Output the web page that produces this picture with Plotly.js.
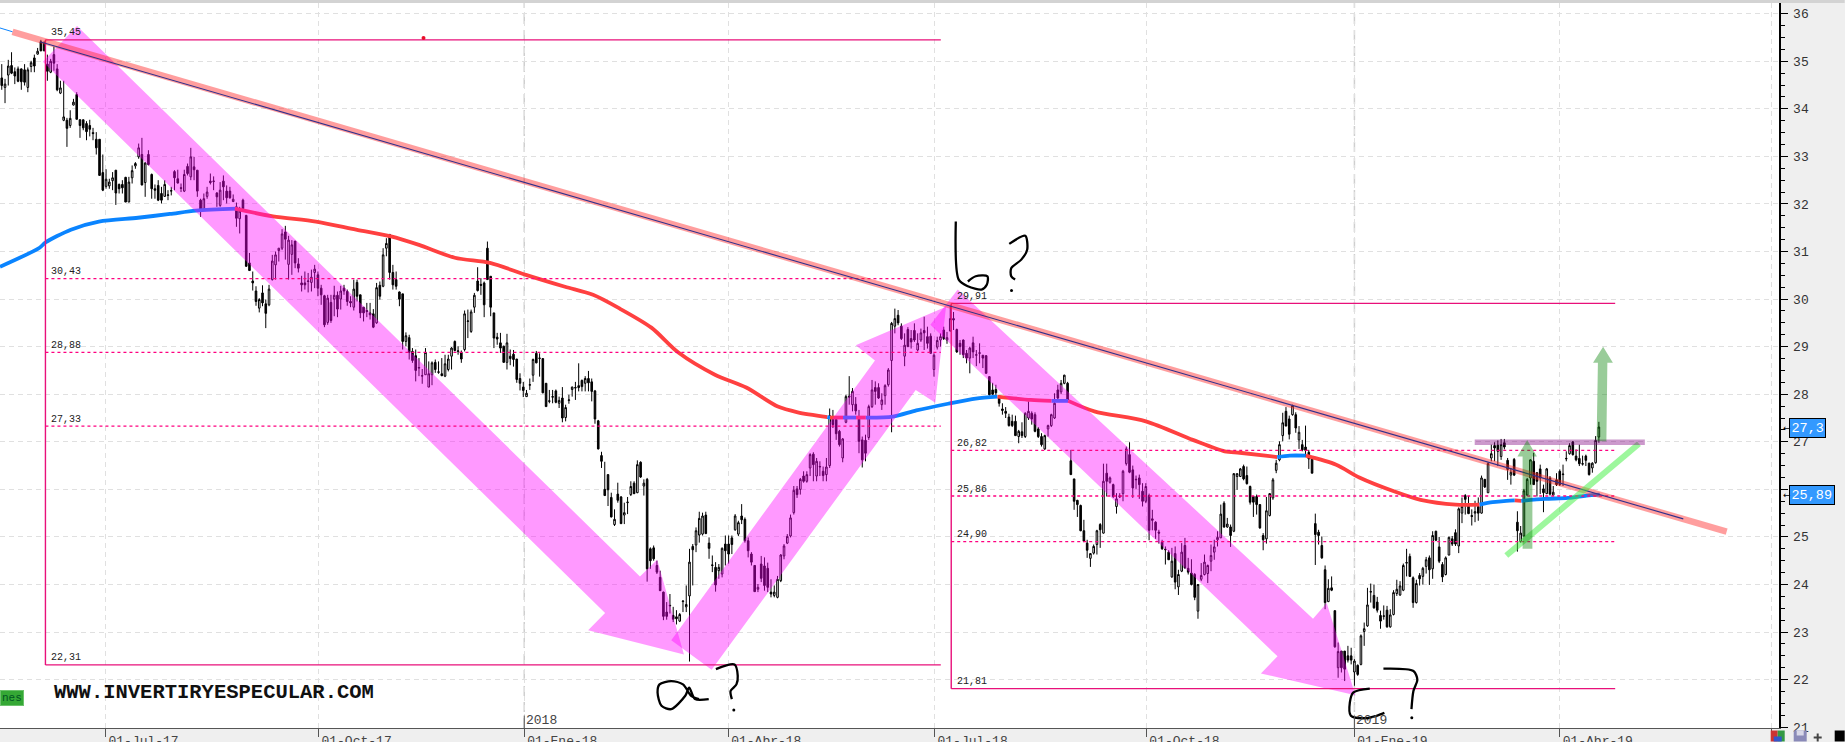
<!DOCTYPE html>
<html>
<head>
<meta charset="utf-8">
<script src="https://cdn.plot.ly/plotly-3.0.1.min.js"></script>
<style>html,body{margin:0;padding:0;background:#efefef;overflow:hidden}#chart{width:1845px;height:742px}</style>
</head>
<body>
<div id="chart"></div>
<script>
const opens = [
34.65,34.45,34.71,34.91,34.78,34.84,34.84,34.82,34.45,34.89,
35.07,35.15,35.41,35.38,34.94,34.77,35.14,34.84,34.33,33.76,
33.76,33.65,34.08,34.30,33.77,33.77,33.69,33.65,33.50,33.36,
33.36,32.66,32.37,32.38,32.49,32.71,32.41,32.41,32.56,32.04,
32.55,32.80,32.99,33.04,32.45,33.04,32.62,32.32,32.39,32.22,
32.16,32.18,32.27,32.68,32.53,32.34,32.27,32.79,32.57,32.78,
32.71,32.08,31.89,32.16,32.48,32.47,32.23,31.97,32.48,32.27,
32.27,32.05,31.94,31.69,32.08,
31.76,30.76,30.38,30.17,29.81,30.13,29.90,29.88,
30.41,30.72,31.02,31.07,31.41,30.73,30.94,31.22,30.74,30.34,
30.34,30.37,30.35,30.56,30.51,30.23,30.07,29.51,29.93,30.00,
30.08,30.00,30.23,30.16,29.95,29.83,30.35,30.09,29.83,29.76,
29.71,29.69,29.50,30.29,30.27,31.07,31.36,30.56,30.41,30.15,
30.11,29.11,29.19,28.90,28.81,28.55,28.38,28.41,28.15,28.41,
28.67,28.46,28.43,28.38,28.52,28.80,29.11,28.90,28.88,28.94,
29.53,29.32,29.83,30.38,30.31,30.34,31.07,30.48,29.71,29.20,
29.08,29.01,28.67,
28.80,28.84,28.74,28.33,28.15,27.95,28.19,28.40,28.86,28.75,
28.75,28.23,27.85,27.95,28.07,27.81,27.92,27.51,27.87,28.10,
28.13,28.18,28.29,28.23,28.33,28.26,28.07,27.44,26.71,26.00,
26.31,25.83,25.26,25.90,25.84,25.46,25.72,25.89,26.13,25.93,
26.57,26.07,26.21,24.75,24.77,24.40,24.15,23.84,23.42,23.55,
23.35,23.32,23.23,23.64,23.53,23.76,24.80,24.83,25.04,25.06,
25.46,24.87,24.40,24.36,24.29,24.22,24.85,24.85,24.98,25.15,
25.06,25.44,25.37,24.92,24.64,24.40,23.90,
24.43,24.39,24.34,23.84,23.77,23.73,24.08,24.60,24.87,25.02,
25.51,26.01,26.00,26.28,26.17,26.45,26.74,26.28,26.47,26.38,
26.31,26.50,27.53,
27.47,27.22,26.66,27.41,27.96,27.78,27.79,27.50,27.04,27.03,
27.09,27.74,28.14,28.14,27.78,27.97,28.20,28.71,29.43,29.66,
29.43,28.80,29.36,29.17,29.34,28.93,29.14,29.34,29.21,29.22,
28.52,28.99,29.14,29.35,29.14,29.33,29.59,29.36,29.07,29.14,
28.86,28.76,29.08,28.82,28.86,28.82,28.81,28.37,28.09,28.10,
27.92,27.69,27.64,27.52,
27.43,27.43,27.11,27.21,27.11,27.50,27.60,27.57,27.27,27.11,
26.85,27.27,27.34,27.50,28.09,28.05,28.23,28.23,26.60,26.22,
25.77,25.66,25.13,24.87,24.55,24.66,24.84,25.26,25.08,26.34,
26.15,26.10,25.64,25.87,25.91,26.54,26.73,26.41,26.20,26.24,
25.96,25.75,25.87,25.38,25.31,25.10,24.89,24.73,24.68,24.16,
24.65,23.95,24.28,24.82,24.34,24.24,24.21,23.44,24.11,24.21,
24.23,24.49,24.68,24.94,24.98,25.71,25.21,25.21,25.12,26.27,
26.27,26.48,26.29,26.06,25.85,25.85,
25.68,25.03,24.96,25.45,25.82,26.40,26.62,27.13,27.64,27.48,
27.57,27.57,27.04,26.94,26.89,26.78,26.64,
25.28,25.10,24.82,24.31,23.64,23.93,23.45,22.25,22.60,22.60,
22.50,22.50,22.16,22.30,22.32,23.01,23.13,23.84,23.77,23.63,
23.35,23.33,23.46,23.11,23.37,23.81,23.78,23.88,24.45,24.59,
24.14,23.62,24.19,24.17,24.38,24.56,24.33,25.12,24.79,24.42,
24.21,24.62,
24.96,25.09,24.81,25.50,25.87,25.65,25.45,25.50,25.64,25.50,
26.21,25.93,26.66,26.92,26.93,26.69,26.98,26.61,26.30,26.63,
25.31,24.90,25.02,25.88,26.24,26.59,26.35,26.43,26.01,25.91,
26.24,25.88,26.20,26.38,26.31,26.64,26.75,27.00,26.70,26.65,
26.53,26.70,26.55,26.45,26.56,27.10];
const closes = [
34.49,34.52,34.90,34.75,34.69,34.58,34.57,34.56,34.82,34.97,
34.90,35.21,35.22,35.22,34.79,35.00,34.96,34.40,34.44,33.83,
33.59,33.80,34.14,33.78,33.65,33.60,33.52,33.57,33.48,33.18,
32.60,32.29,32.52,32.46,32.55,32.23,32.32,32.34,32.04,32.46,
32.70,32.85,33.18,32.40,32.86,32.83,32.32,32.29,32.08,32.08,
32.41,32.19,32.28,32.55,32.44,32.33,32.62,32.64,32.99,32.72,
32.27,31.89,32.11,32.25,32.45,32.48,32.15,32.29,32.36,32.13,
32.13,32.10,31.70,31.85,31.90,
30.69,30.60,30.34,29.95,29.99,29.92,29.70,30.21,
30.80,30.93,31.07,31.37,31.26,31.24,31.14,30.76,30.65,30.30,
30.30,30.38,30.46,30.63,30.23,30.09,29.46,30.02,29.55,30.08,
29.79,30.17,30.17,29.95,29.92,30.21,30.06,29.71,29.71,29.74,
29.67,29.41,30.24,30.06,30.93,31.17,30.56,30.30,30.27,30.00,
29.11,29.23,28.88,28.71,28.50,28.56,28.39,28.88,28.43,28.66,
28.52,28.47,28.39,28.64,28.74,28.97,28.92,28.91,28.74,29.69,
29.54,29.73,30.08,30.18,30.29,29.88,30.41,29.83,29.18,29.16,
28.97,28.67,29.08,
28.75,28.73,28.31,28.23,28.08,28.02,28.20,28.73,28.66,28.76,
28.03,27.74,27.86,27.94,27.83,27.87,27.50,27.72,27.88,28.15,
28.14,28.14,28.16,28.33,28.24,28.06,27.48,26.85,26.59,25.87,
25.99,25.42,25.37,25.77,25.28,25.51,25.73,26.06,25.91,26.52,
26.26,26.13,24.33,24.50,24.54,24.26,23.87,23.33,23.33,23.56,
23.27,23.28,23.37,23.65,23.58,24.47,24.73,25.13,25.39,25.44,
25.07,24.76,24.41,23.99,24.36,24.76,24.71,24.64,24.84,25.44,
25.30,25.36,24.92,24.71,24.47,23.85,23.94,
24.13,23.98,23.94,23.80,23.84,24.11,24.62,24.81,25.01,25.40,
25.98,25.89,26.21,26.17,26.31,26.73,26.52,26.59,26.48,26.29,
26.47,27.55,27.36,
27.17,26.94,27.06,27.95,27.94,28.06,27.65,27.01,26.62,26.76,
27.74,28.09,28.06,27.92,27.88,28.18,28.51,29.49,29.59,29.50,
29.17,29.03,29.00,29.10,29.14,29.07,29.29,29.29,29.07,28.86,
28.82,29.13,29.21,29.17,29.19,29.59,29.56,28.89,29.00,28.83,
28.76,28.97,28.89,28.83,28.87,28.76,28.44,27.99,28.00,28.03,
27.81,27.66,27.60,27.34,
27.34,27.13,27.22,27.13,27.60,27.64,27.48,27.22,27.11,26.94,
27.13,27.34,27.57,27.81,27.92,28.23,28.40,27.88,26.31,25.75,
25.68,25.13,24.91,24.72,24.65,24.80,25.13,25.15,26.17,26.17,
26.24,25.85,25.80,25.84,26.38,26.85,26.36,26.03,26.21,26.10,
25.75,26.06,25.14,25.35,25.14,25.08,24.75,24.74,24.52,24.49,
24.05,24.21,24.68,24.35,24.26,24.00,23.73,24.00,24.19,24.47,
24.40,24.61,24.79,24.99,25.48,25.21,25.27,25.03,26.33,26.33,
26.43,26.22,26.12,25.73,25.73,25.68,
25.19,24.94,25.55,25.91,26.20,26.55,26.94,27.40,27.33,27.16,
27.76,27.29,27.20,26.83,26.82,26.64,26.34,
25.05,25.03,24.56,23.62,23.92,23.88,22.69,22.59,22.25,22.22,
22.41,22.41,22.39,22.11,22.92,23.07,23.57,23.85,23.51,23.46,
23.23,23.34,23.11,23.36,23.83,23.90,23.97,24.40,24.46,24.17,
23.62,24.02,24.12,24.34,24.52,24.31,25.03,24.93,24.49,24.16,
24.56,24.99,
24.85,24.85,25.59,25.64,25.79,25.49,25.43,25.53,25.50,26.24,
26.05,26.54,26.75,26.87,26.80,26.94,26.89,26.42,26.36,26.30,
25.13,25.08,25.97,26.21,26.62,26.10,26.17,26.24,25.93,26.43,
25.90,25.94,26.10,26.10,26.32,26.65,26.92,26.73,26.62,26.54,
26.54,26.61,26.31,26.55,27.03,27.31];
const highs = [
34.94,34.63,35.03,35.19,34.87,34.89,34.85,34.94,34.87,35.01,
35.14,35.28,35.45,35.42,35.14,35.05,35.31,34.94,34.59,34.59,
33.81,33.97,34.21,34.35,33.78,33.77,33.74,33.77,33.60,33.51,
33.36,33.04,32.73,32.53,32.67,32.71,32.43,32.50,32.57,32.57,
32.81,32.88,33.27,33.39,32.88,33.13,32.64,32.41,32.50,32.36,
32.50,32.29,32.36,32.71,32.72,32.43,32.72,32.85,33.18,32.99,
32.71,32.11,32.22,32.36,32.64,32.58,32.25,32.46,32.60,32.39,
32.36,32.20,32.03,31.94,32.11,
31.77,30.97,30.58,30.27,30.02,30.29,29.99,30.30,
30.93,31.00,31.07,31.47,31.54,31.33,31.24,31.22,30.86,30.49,
30.58,30.55,30.62,30.72,30.58,30.30,30.09,30.09,30.09,30.28,
30.16,30.28,30.30,30.20,30.06,30.41,30.41,30.09,29.83,29.92,
29.92,29.79,30.34,30.37,31.07,31.28,31.36,30.72,30.58,30.16,
30.11,29.30,29.25,28.97,28.94,28.76,28.53,28.97,28.69,28.69,
28.73,28.69,28.76,28.83,28.83,28.99,29.13,29.01,28.92,29.76,
29.78,29.78,30.13,30.67,30.44,30.37,31.21,30.48,29.71,29.29,
29.29,29.02,29.27,
28.94,28.93,28.74,28.44,28.26,28.09,28.33,28.75,28.91,28.86,
28.75,28.23,28.09,28.09,28.10,27.95,28.15,27.78,27.99,28.16,
28.26,28.65,28.31,28.38,28.49,28.33,28.09,27.46,26.79,26.58,
26.31,25.93,25.58,26.14,25.86,25.72,25.84,26.17,26.17,26.61,
26.59,26.21,26.24,24.78,24.82,24.50,24.29,23.85,23.63,23.80,
23.53,23.46,23.40,23.67,23.98,24.75,24.85,25.20,25.53,25.51,
25.53,24.99,24.61,24.47,24.43,24.78,25.03,25.03,25.03,25.48,
25.34,25.69,25.41,24.99,24.68,24.41,24.01,
24.60,24.57,24.46,24.11,23.98,24.18,24.64,24.85,25.06,25.47,
26.07,26.07,26.24,26.38,26.38,26.76,26.78,26.66,26.59,26.48,
26.66,27.70,27.67,
27.50,27.25,27.08,27.99,28.38,28.13,27.94,27.67,27.11,27.15,
27.78,28.30,28.27,28.23,28.02,28.21,28.55,29.52,29.80,29.77,
29.49,29.28,29.41,29.35,29.49,29.28,29.38,29.63,29.42,29.28,
28.86,29.21,29.28,29.42,29.31,29.87,29.73,29.38,29.14,29.15,
28.93,29.00,29.21,28.93,29.07,28.82,28.82,28.38,28.24,28.20,
27.97,27.81,27.73,27.59,
27.57,27.55,27.25,27.41,27.62,27.85,27.64,27.62,27.31,27.18,
27.15,27.36,27.59,28.02,28.20,28.30,28.41,28.26,26.83,26.22,
25.78,25.68,25.36,24.94,24.66,24.84,25.15,25.29,26.54,26.54,
26.27,26.12,25.92,25.92,26.41,26.90,26.99,26.50,26.29,26.31,
26.13,26.13,25.91,25.57,25.33,25.15,24.94,24.80,24.72,24.77,
24.80,24.31,24.87,24.98,24.56,24.53,24.24,24.01,24.45,24.63,
24.42,24.84,24.94,25.12,25.68,25.75,25.40,25.26,26.34,26.34,
26.45,26.52,26.48,26.08,25.85,25.89,
25.68,25.08,25.84,25.92,26.24,26.62,27.01,27.61,27.73,27.55,
27.78,27.62,27.33,27.04,27.34,26.83,26.68,
25.49,25.15,25.01,24.40,24.11,24.17,23.45,22.78,22.60,22.60,
22.71,22.67,22.43,22.32,22.95,23.20,23.93,24.02,24.00,23.74,
23.45,23.56,23.55,23.48,23.88,24.10,24.07,24.44,24.75,24.65,
24.17,24.10,24.24,24.37,24.58,24.61,25.12,25.13,25.00,24.47,
24.59,25.01,
25.02,25.16,25.62,25.83,25.90,25.86,25.58,25.76,25.83,26.29,
26.22,26.57,26.94,26.99,27.03,27.06,27.06,26.66,26.45,26.66,
25.54,25.23,26.01,26.24,26.63,26.77,26.36,26.52,26.10,26.45,
26.28,26.07,26.34,26.42,26.52,26.80,26.97,27.01,26.84,26.94,
26.71,26.73,26.56,26.57,27.12,27.42];
const lows = [
34.40,34.12,34.49,34.73,34.52,34.56,34.40,34.49,34.35,34.77,
34.77,35.14,35.21,35.21,34.59,34.75,34.80,34.37,34.31,33.74,
33.20,33.60,34.07,33.78,33.39,33.55,33.34,33.42,33.34,33.04,
32.60,32.27,32.32,32.32,32.29,31.98,32.22,32.22,32.04,32.04,
32.43,32.74,32.95,32.39,32.15,32.81,32.11,32.11,32.06,32.01,
32.15,32.08,32.18,32.29,32.43,32.25,32.25,32.60,32.50,32.50,
32.15,31.73,31.87,32.11,32.41,32.29,31.94,31.94,32.08,32.01,
32.11,32.04,31.52,31.38,31.89,
30.68,30.60,30.18,29.86,29.72,29.85,29.39,29.85,
30.39,30.41,30.79,31.03,30.83,30.41,30.51,30.65,30.56,30.16,
30.20,30.14,30.16,30.23,30.06,29.88,29.41,29.46,29.50,29.64,
29.62,29.78,30.09,29.86,29.83,29.76,29.95,29.60,29.53,29.62,
29.57,29.39,29.48,29.99,30.25,30.90,30.41,30.20,30.20,29.85,
28.94,29.01,28.73,28.66,28.27,28.38,28.22,28.41,28.15,28.19,
28.45,28.43,28.38,28.36,28.48,28.52,28.90,28.83,28.66,28.90,
29.18,29.29,29.71,30.16,30.09,29.62,30.41,29.64,28.97,29.04,
28.87,28.66,28.52,
28.61,28.58,28.24,28.08,27.94,27.95,28.09,28.26,28.65,28.37,
28.02,27.74,27.81,27.81,27.81,27.71,27.41,27.43,27.80,27.95,
27.88,28.06,28.06,28.06,28.06,27.85,27.38,26.84,26.45,25.86,
25.65,25.41,25.23,25.72,25.27,25.27,25.48,25.86,25.90,25.92,
26.24,25.87,24.06,24.33,24.50,24.22,23.87,23.25,23.26,23.39,
23.21,23.16,23.21,23.42,23.42,22.38,23.98,24.68,24.88,25.03,
25.06,24.54,24.26,23.85,24.12,24.15,24.40,24.44,24.64,25.13,
25.02,25.27,24.88,24.57,24.40,23.85,23.84,
24.05,23.87,23.84,23.73,23.73,23.71,24.05,24.53,24.85,24.99,
25.47,25.82,25.89,26.14,26.14,26.28,26.17,26.17,26.28,26.17,
26.17,26.45,27.29,
27.04,26.90,26.57,27.39,27.78,27.64,27.57,26.76,26.46,26.59,
27.04,27.71,27.78,27.90,27.67,27.78,28.16,27.20,29.28,29.45,
29.14,28.59,29.00,28.96,29.10,28.90,29.10,28.93,28.96,28.86,
28.37,28.94,29.00,29.14,29.06,29.32,29.35,28.87,28.83,28.76,
28.65,28.44,28.76,28.59,28.65,28.55,28.43,27.97,27.99,27.92,
27.74,27.57,27.50,27.32,
27.31,27.13,26.97,27.08,27.08,27.46,27.36,27.20,27.08,26.90,
26.83,27.11,27.31,27.48,27.90,28.00,28.21,27.85,26.31,25.57,
25.42,25.12,24.89,24.56,24.37,24.63,24.63,24.77,25.07,25.85,
26.12,25.82,25.49,25.82,25.75,26.50,26.34,25.82,26.01,25.80,
25.64,25.71,24.93,25.14,24.96,24.86,24.73,24.42,24.52,24.14,
23.90,23.78,24.26,24.33,24.21,23.98,23.67,23.28,24.07,24.19,
24.03,24.28,24.52,24.80,24.98,25.19,25.19,24.79,25.10,25.99,
26.26,26.19,26.10,25.68,25.42,25.47,
25.17,24.72,24.86,25.43,25.78,26.34,26.59,27.01,27.33,27.05,
27.55,27.19,26.85,26.80,26.68,26.43,26.34,
24.41,24.84,24.54,23.48,23.63,23.86,22.67,22.04,22.15,21.97,
22.36,22.32,21.87,22.08,22.30,22.71,23.11,23.62,23.49,23.41,
23.07,23.26,23.09,23.09,23.35,23.76,23.76,23.86,24.17,24.16,
23.51,23.60,23.98,24.00,24.23,23.99,24.12,24.91,24.45,24.05,
24.19,24.61,
24.81,24.81,24.66,25.29,25.47,25.48,25.24,25.31,25.34,25.49,
26.03,25.92,26.59,26.59,26.49,26.62,26.84,26.20,26.10,26.28,
24.69,24.88,25.01,25.86,26.10,26.10,25.85,25.90,25.52,25.90,
25.87,25.86,26.07,26.07,26.07,26.59,26.73,26.71,26.59,26.49,
26.50,26.49,26.29,26.35,26.54,26.98];

if (opens.length!==closes.length||opens.length!==highs.length||opens.length!==lows.length) throw new Error('len '+[opens.length,closes.length,highs.length,lows.length]);
const sessions = opens.map((_, i) => i + 1);

const tickSessions = [32.85,98.2,161.3,223.9,287.2,352.2,416,479,544];
const tickLabels = ['01-Jul-17','01-Oct-17','01-Ene-18','01-Abr-18','01-Jul-18','01-Oct-18','01-Ene-19','01-Abr-19',''];
const yearSessions = [161.3,416];
const yearLabels = ['2018','2019'];

// moving average, one run per colour
const maRuns = [
 {c:'blue',x:[0.46,12.6,14.4,22.2,30.8,42.8,52.6,60.6,73.2],y:[30.68,31.08,31.19,31.46,31.63,31.71,31.79,31.86,31.90]},
 {c:'red',x:[72.5,84.2,97.4,109.7,120.4,129,140,150.8,161.8,173.8,182.4,190.6,200.3,208.7,219.8,229.4,239.1,245.2,254.3],y:[31.90,31.74,31.63,31.46,31.32,31.14,30.87,30.76,30.51,30.26,30.09,29.80,29.40,28.87,28.41,28.14,27.74,27.62,27.52]},
 {c:'blue',x:[254.3,255.1],y:[27.52,27.51]},
 {c:'red',x:[255.1,259.1],y:[27.51,27.51]},
 {c:'blue',x:[259.1,263.1],y:[27.51,27.51]},
 {c:'red',x:[263.1,266.1],y:[27.51,27.51]},
 {c:'blue',x:[266.1,274.4,281.6,291.3,299.8,306.5],y:[27.51,27.53,27.66,27.80,27.91,27.95]},
 {c:'red',x:[306.5,316.7,323.1],y:[27.95,27.88,27.86]},
 {c:'blue',x:[323.1,328.2],y:[27.86,27.86]},
 {c:'red',x:[328.2,336.2,352,366.4,376.2,380.8,392.3],y:[27.86,27.64,27.43,27.04,26.80,26.77,26.68]},
 {c:'blue',x:[392.3,396.2,401.1],y:[26.68,26.71,26.71]},
 {c:'red',x:[401.1,410.4,417.5,428.1,436.3,447.1,454.4],y:[26.71,26.52,26.25,25.96,25.78,25.68,25.68]},
 {c:'blue',x:[454.4,458.4,462.6,465.2],y:[25.68,25.73,25.76,25.77]},
 {c:'red',x:[465.2,467.2],y:[25.77,25.76]},
 {c:'blue',x:[467.2,474.4,481.5,487.2,491.3],y:[25.76,25.80,25.82,25.87,25.89]}
];
const maColors = {blue:'#0a84ff', red:'#ff4040'};

const fibLeft = {x0:14.4, x1:289.1, top:35.45, bottom:22.31, levels:[30.43,28.88,27.33]};
const fibRight = {x0:292.3, x1:496, top:29.91, bottom:21.81, levels:[26.82,25.86,24.90]};

const arrow1X = [24.1,196.8,202.1,210.3,180.9,186.1,13.6];
const arrow1Y = [35.74,24.17,24.52,22.53,23.04,23.40,34.99];
const arrow2X = [206.4,268.9,263,290.7,287.4,281.4,218.8];
const arrow2Y = [22.83,28.71,29.03,29.84,27.82,28.09,22.21];
const arrow3X = [294.3,403.3,407.5,416.3,387.3,392.4,285.9];
const arrow3Y = [30.20,23.28,23.61,21.67,22.13,22.49,29.46];
const greenAX = [467.6,470.6,470.6,472,469,466,467.6];
const greenAY = [24.75,24.75,26.69,26.69,27.04,26.69,26.69];
const greenBX = [490.3,493.3,493.6,495.3,492.3,489.2,490.7];
const greenBY = [27.01,27.01,28.66,28.66,29.0,28.66,28.66];

const trendBandX = [4.3,530.2], trendBandY = [35.62,25.11];
const trendCoreX = [12.7,516.9], trendCoreY = [35.41,25.38];
const trendLeadX = [0.46,4.3], trendLeadY = [35.7,35.62];
const supportX = [462.6,503.3], supportY = [24.61,26.96];
const resistX = [452.9,505.1], resistY = [26.99,26.99];

const alphaX = [217.9,213.7,211.9,210.7,206.4,203.4,202.2,202.8,206.4,210,212.5,214.9];
const alphaY = [21.59,21.59,21.83,21.66,21.38,21.45,21.73,21.90,21.97,21.90,21.66,21.59];
const q1X = [220.1,225.8,226.8,226.4,224.6,225], q1Y = [22.22,22.32,22.08,21.90,21.76,21.59];
const betaX = [293.7,294.6,297.4,301.6,303.2,303.4,299.8,297.4];
const betaY = [31.63,30.41,30.27,30.20,30.30,30.48,30.48,30.37];
const q2X = [310.1,315,315.6,313.8,310.7,310.7,311.9], q2Y = [31.16,31.33,31.04,30.83,30.65,30.48,30.41];
const gammaX = [420.7,415.7,414.6,414.9,419.9,422.8,425.2];
const gammaY = [21.81,21.73,21.52,21.24,21.19,21.24,21.30];
const q3X = [424.9,434.1,435.3,434.1,433.5], q3Y = [22.23,22.18,22.0,21.76,21.38];
const dotX = [225.6,310.8,433.6], dotY = [21.36,30.18,21.2];

const PLOT_W = 1779.3, PLOT_H = 725.5, PLOT_BOTTOM = 728.5;
const px = v => v / PLOT_W, py = v => (PLOT_BOTTOM - v) / PLOT_H;
const XMIN = 0.46, XMAX = 546.26;

const line = (x, y, color, width, dash) => ({type:'scatter', mode:'lines', x, y, hoverinfo:'skip', showlegend:false,
  line:{color, width, dash: dash || 'solid'}});
const curve = (x, y, color, width) => ({type:'scatter', mode:'lines', x, y, hoverinfo:'skip', showlegend:false,
  line:{color, width, shape:'spline', smoothing:0.8}});
const poly = (x, y, color) => ({type:'scatter', mode:'lines', x, y, fill:'toself', fillcolor:color, hoverinfo:'skip', showlegend:false, line:{width:0, color}});

const MAGENTA = '#e8107a', DASHPINK = '#ff0080';
const fibTraces = f => [
  line([f.x0,f.x0],[f.top,f.bottom],MAGENTA,1.4),
  line([f.x0,f.x1],[f.top,f.top],MAGENTA,1.4),
  line([f.x0,f.x1],[f.bottom,f.bottom],MAGENTA,1.4),
  ...f.levels.map(l => line([f.x0,f.x1],[l,l],DASHPINK,1.3,'3px,3px'))
];
const ARROW_PINK = 'rgba(255,0,255,0.4)', ARROW_GREEN = 'rgba(0,128,0,0.4)';

const traces = [
  {type:'candlestick', x:sessions, open:opens, high:highs, low:lows, close:closes, hoverinfo:'skip', showlegend:false, whiskerwidth:0,
   increasing:{line:{color:'#000',width:1}, fillcolor:'#fff'},
   decreasing:{line:{color:'#000',width:1}, fillcolor:'#000'}},
  ...maRuns.map(r => curve(r.x, r.y, maColors[r.c], 3.8)),
  poly(arrow1X, arrow1Y, ARROW_PINK),
  poly(arrow2X, arrow2Y, ARROW_PINK),
  poly(arrow3X, arrow3Y, ARROW_PINK),
  ...fibTraces(fibLeft),
  ...fibTraces(fibRight),
  line(trendLeadX, trendLeadY, '#0a84ff', 1),
  line(trendBandX, trendBandY, 'rgba(255,40,40,0.45)', 6.5),
  line(trendCoreX, trendCoreY, '#30308c', 1.1),
  line(supportX, supportY, 'rgba(60,240,60,0.5)', 6),
  line(resistX, resistY, 'rgba(128,0,128,0.4)', 5.5),
  poly(greenAX, greenAY, ARROW_GREEN),
  poly(greenBX, greenBY, ARROW_GREEN),
  curve(alphaX, alphaY, '#000', 2.3),
  curve(q1X, q1Y, '#000', 2.3),
  curve(betaX, betaY, '#000', 2.3),
  curve(q2X, q2Y, '#000', 2.3),
  curve(gammaX, gammaY, '#000', 2.3),
  curve(q3X, q3Y, '#000', 2.3),
  {type:'scatter', mode:'markers', x:dotX, y:dotY, hoverinfo:'skip', showlegend:false, marker:{color:'#000', size:3}},
  {type:'scatter', mode:'markers', x:[130.4], y:[35.49], hoverinfo:'skip', showlegend:false, marker:{color:'#e8102a', size:4}}
];

const SMALL = {family:'Liberation Mono', size:10, color:'#222'};
const fibLabel = (xS, v) => ({xref:'x', yref:'y', x:xS, y:v, yshift:7, xanchor:'left', yanchor:'middle', showarrow:false,
  text:v.toFixed(2).replace('.', ','), font:SMALL});
const leftX = 15.4, rightX = 293.4;

const annotations = [
  fibLabel(leftX, fibLeft.top),
  ...fibLeft.levels.map(v => fibLabel(leftX, v)),
  fibLabel(leftX, fibLeft.bottom),
  fibLabel(rightX, fibRight.top),
  ...fibRight.levels.map(v => fibLabel(rightX, v)),
  fibLabel(rightX, fibRight.bottom),
  ...yearSessions.map((s, i) => ({xref:'x', yref:'paper', x:s, y:py(721), xanchor:'left', yanchor:'middle', xshift:0, showarrow:false,
     text:yearLabels[i], font:{family:'Liberation Mono', size:13, color:'#444'}})),
  {xref:'paper', yref:'paper', x:px(52), y:py(693), xanchor:'left', yanchor:'middle', showarrow:false,
   text:'<b>WWW.INVERTIRYESPECULAR.COM</b>', font:{family:'Liberation Mono', size:20.5, color:'#111'}},
  {xref:'paper', yref:'paper', x:px(0), y:py(698.5), xanchor:'left', yanchor:'middle', showarrow:false,
   text:'nes', align:'right', font:{family:'Liberation Mono', size:11, color:'#052'}, bgcolor:'#35a835', bordercolor:'#6cc26c', borderwidth:1, borderpad:1},
  {xref:'paper', yref:'y', x:px(1789.4), y:27.3, xanchor:'left', yanchor:'middle', showarrow:false, text:'27,3',
   font:{family:'Liberation Mono', size:13.5, color:'#fff'}, bgcolor:'#3399ff', bordercolor:'#000', borderwidth:1, borderpad:1.5},
  {xref:'paper', yref:'y', x:px(1789.4), y:25.89, xanchor:'left', yanchor:'middle', showarrow:false, text:'25,89',
   font:{family:'Liberation Mono', size:13.5, color:'#fff'}, bgcolor:'#3399ff', bordercolor:'#000', borderwidth:1, borderpad:1.5},
  {xref:'paper', yref:'y', x:px(1781), y:27.3, xanchor:'left', yanchor:'middle', showarrow:false, text:'←', font:{family:'DejaVu Sans', size:9, color:'#000'}},
  {xref:'paper', yref:'y', x:px(1781), y:25.89, xanchor:'left', yanchor:'middle', showarrow:false, text:'←', font:{family:'DejaVu Sans', size:9, color:'#000'}}
];

const rect = (x0, y0, x1, y1, color) => ({type:'rect', xref:'paper', yref:'paper', x0:px(x0), x1:px(x1), y0:py(y0), y1:py(y1), fillcolor:color, line:{width:0}, layer:'above'});
const shapes = [
  rect(0,0,1845,3,'#d3d3d3'),
  ...yearSessions.map(s => ({type:'line', xref:'x', yref:'paper', x0:s, x1:s, y0:0, y1:1, layer:'below', line:{color:'#cfcfcf', width:1.5, dash:'10px,6px'}})),
  ...yearSessions.map(s => ({type:'line', xref:'x', yref:'paper', x0:s, x1:s, y0:py(716), y1:0, layer:'above', line:{color:'#555', width:1}})),
  rect(1771,731,1778,742,'#cc3333'), rect(1778,731,1785,742,'#339944'), rect(1774,737,1782,742,'#3355cc'),
  rect(1794,731,1807,742,'#8a8ab8'), rect(1797,731,1804,736,'#d8d8e8'),
  rect(1817,734,1819,742,'#444'), rect(1814,737,1822,739,'#444'),
  rect(1835,731,1845,742,'#000')
];

const layout = {
  width:1845, height:742,
  margin:{l:0, r:1845-PLOT_W, t:3, b:742-PLOT_BOTTOM, pad:0},
  paper_bgcolor:'#efefef', plot_bgcolor:'#ffffff',
  showlegend:false, hovermode:false, dragmode:false,
  xaxis:{type:'linear', range:[XMIN,XMAX], rangeslider:{visible:false}, tickmode:'array', tickvals:tickSessions, ticktext:tickLabels,
    showgrid:true, griddash:'5px,4px', gridcolor:'#e0e0e0', gridwidth:1, zeroline:false, showline:true, linecolor:'#555', linewidth:1.2,
    ticks:'outside', ticklen:8, tickcolor:'#555', tickwidth:1, ticklabelshift:38, ticklabelstandoff:-8,
    tickfont:{family:'Liberation Mono', size:13, color:'#444'}, automargin:false, fixedrange:true},
  yaxis:{side:'right', range:[20.983,36.225], tickmode:'linear', tick0:0, dtick:1, showgrid:true, griddash:'5px,4px', gridcolor:'#e0e0e0', gridwidth:1,
    zeroline:false, showline:true, linecolor:'#000', linewidth:1.5, ticks:'outside', ticklen:7, tickcolor:'#000', tickwidth:1,
    minor:{dtick:0.25, ticks:'outside', ticklen:4, tickcolor:'#000', tickwidth:1, showgrid:false},
    ticklabelstandoff:3, tickfont:{family:'Liberation Mono', size:13, color:'#333'}, automargin:false, fixedrange:true},
  annotations, shapes
};
Plotly.newPlot('chart', traces, layout, {displayModeBar:false, staticPlot:true});
</script>
</body>
</html>
